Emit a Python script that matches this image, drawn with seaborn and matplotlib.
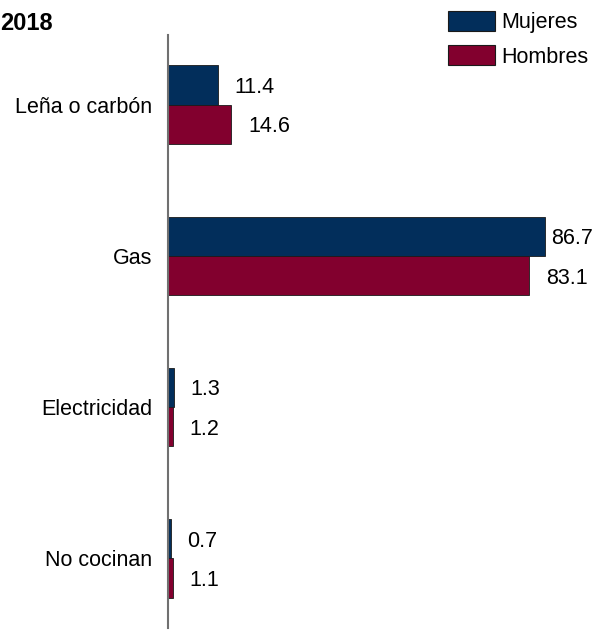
import matplotlib

matplotlib.use("Agg")

import matplotlib.pyplot as plt
import pandas as pd
import seaborn as sns

categories = ["Leña o carbón", "Gas", "Electricidad", "No cocinan"]
mujeres = [11.4, 86.7, 1.3, 0.7]
hombres = [14.6, 83.1, 1.2, 1.1]
series = ["Mujeres", "Hombres"]
colors = ["#022e5b", "#82002e"]

df = pd.DataFrame({
    "categoria": categories * 2,
    "valor": mujeres + hombres,
    "sexo": [series[0]] * len(categories) + [series[1]] * len(categories),
})

sns.set_style("white")
plt.rcParams["font.family"] = ["Liberation Sans", "DejaVu Sans"]
plt.rcParams["text.color"] = "black"
plt.rcParams["ytick.color"] = "black"

fig = plt.figure(figsize=(6.05, 6.31), dpi=100)
ax = fig.add_axes([168 / 605, 3 / 631, 437 / 605, 593 / 631])

sns.barplot(data=df, y="categoria", x="valor", hue="sexo", order=categories,
            hue_order=series, palette=colors, saturation=1, width=0.52, orient="h",
            edgecolor="#1a1a1a", linewidth=0.6, ax=ax)

for container in ax.containers:
    for bar in container:
        v = bar.get_width()
        y = bar.get_y() + bar.get_height() / 2
        ax.text(min(v + 3.8, 88.2), y, f"{v:.1f}", va="center_baseline", ha="left",
                fontsize=15.5, color="black")

ax.set_xlim(0, 100.5)
ax.set_ylim(3.46, -0.46)
ax.set_xlabel("")
ax.set_ylabel("")
ax.set_xticks([])
ax.tick_params(axis="y", length=0, pad=11.5, labelsize=15.5, labelcolor="black")
for side in ["top", "right", "bottom"]:
    ax.spines[side].set_visible(False)
ax.spines["left"].set_color("#707070")
ax.spines["left"].set_linewidth(1.5)

ax.legend_.remove()
handles = [plt.Rectangle((0, 0), 1, 1, facecolor=c, edgecolor="#1a1a1a", linewidth=0.8) for c in colors]
fig.legend(handles, series, loc="upper left", bbox_to_anchor=(437 / 605, 1 - 0 / 631),
           frameon=False, fontsize=15.5, handlelength=2.18, handleheight=1.07,
           handletextpad=0.3, labelspacing=0.55, borderpad=0)

fig.text(0, 1 - 30 / 631, "2018", fontsize=17, fontweight="bold", ha="left", va="baseline")

fig.savefig("out.png", dpi=100)
